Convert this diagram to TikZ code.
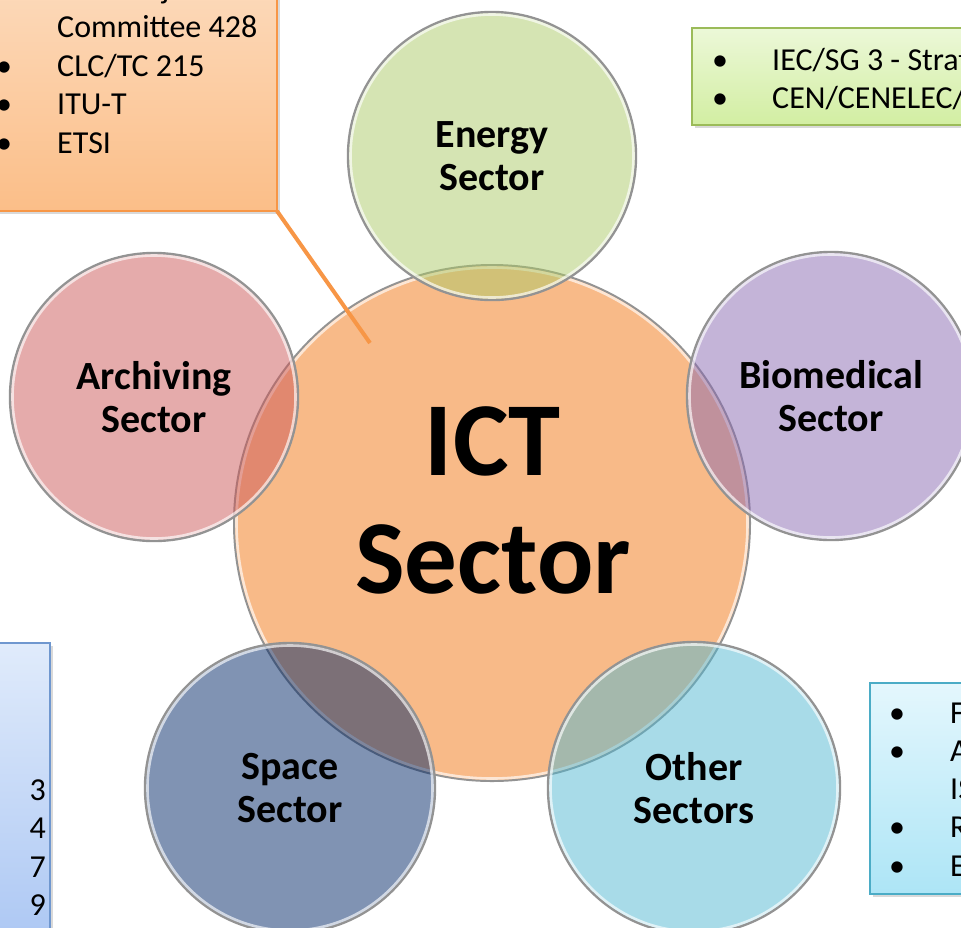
\documentclass[tikz,border=0pt]{standalone}
\usepackage{fontspec}
\setmainfont{Carlito}
\usetikzlibrary{shadows}
\definecolor{ictfill}{HTML}{F8BA88}
\definecolor{engC}{RGB}{171,201,103}
\definecolor{arcC}{RGB}{203,87,87}
\definecolor{bioC}{RGB}{137,105,177}
\definecolor{spaC}{RGB}{1,39,103}
\definecolor{othC}{RGB}{81,183,209}
\definecolor{ringgray}{HTML}{939393}
\definecolor{orangeline}{HTML}{F79646}
\definecolor{orangetop}{HTML}{FDE0C6}
\definecolor{orangebot}{HTML}{FBBE88}
\definecolor{greenline}{HTML}{9BBB59}
\definecolor{greentop}{HTML}{ECF8D8}
\definecolor{greenbot}{HTML}{D2EEA2}
\definecolor{blueline}{HTML}{6F97CF}
\definecolor{bluetop}{HTML}{E0EBFB}
\definecolor{bluebot}{HTML}{A9C5F3}
\definecolor{cyanline}{HTML}{4BACC6}
\definecolor{cyantop}{HTML}{E4F7FD}
\definecolor{cyanbot}{HTML}{ADE5F6}
\tikzset{
  sector/.style={circle, minimum size=#1, inner sep=0pt, outer sep=0pt,
    draw=ringgray, line width=2.4pt, fill opacity=0.5, text opacity=1,
    font=\fontsize{40}{43}\selectfont\bfseries, align=center},
  hilite/.style={white, line width=2.6pt, opacity=0.65},
  infobox/.style={rectangle, inner sep=0pt, outer sep=0pt, line width=2pt,
    drop shadow={opacity=0.3, shadow xshift=3pt, shadow yshift=-3pt}},
  btxt/.style={font=\fontsize{32}{38}\selectfont, inner sep=0pt, anchor=base west},
  rtxt/.style={font=\fontsize{32}{38}\selectfont, inner sep=0pt, anchor=base east},
  bigtxt/.style={font=\fontsize{105}{118}\selectfont\bfseries, align=center, inner sep=0pt}
}
\begin{document}
\begin{tikzpicture}[x=1pt,y=-1pt]
\useasboundingbox (0,0) rectangle (961,927);
\clip (0,0) rectangle (961,927);

% central circle
\node[circle, minimum size=516pt, inner sep=0pt, outer sep=0pt, fill=ictfill,
      draw=ringgray, line width=2pt] (ict) at (492,523) {};
\draw[hilite] (ict.center) circle[radius=255.5pt];
\node[bigtxt] (ictlabel) at (493,500) {ICT\\Sector};

% pointer end inside the central circle
\coordinate (ptr) at (370,343);

% outer circles
\node[sector=288pt, fill=engC] (energy) at (492,156) {Energy\\Sector};
\draw[hilite] (energy.center) circle[radius=141.5pt];
\node[sector=288pt, fill=arcC] (archiving) at (154,397) {Archiving\\Sector};
\draw[hilite] (archiving.center) circle[radius=141.5pt];
\node[sector=288pt, fill=bioC] (biomed) at (831,396) {Biomedical\\Sector};
\draw[hilite] (biomed.center) circle[radius=141.5pt];
\node[sector=290pt, fill=spaC] (space) at (290,788) {Space\\Sector};
\draw[hilite] (space.center) circle[radius=142.5pt];
\node[sector=292pt, fill=othC] (other) at (694,788) {Other\\Sectors};
\draw[hilite] (other.center) circle[radius=143.5pt];

% top-left callout box
\node[infobox, draw=orangeline, top color=orangetop, bottom color=orangebot,
      minimum width=297pt, minimum height=281pt] (tlbox) at (128.5,70.5) {};
\draw[orangeline, line width=4pt] (tlbox.south east) -- (ptr);
\node[btxt] (tl0) at (57,-2) {CEN Project};
\node[btxt] (tl1) at (57,37) {Committee 428};
\node[btxt] (tlb2) at (-4,76) {•};
\node[btxt] (tl2) at (57,76) {CLC/TC 215};
\node[btxt] (tlb3) at (-4,114) {•};
\node[btxt] (tl3) at (57,114) {ITU-T};
\node[btxt] (tlb4) at (-4,153) {•};
\node[btxt] (tl4) at (57,153) {ETSI};

% top-right green box
\node[infobox, draw=greenline, top color=greentop, bottom color=greenbot,
      minimum width=320pt, minimum height=97pt] (trbox) at (852,76.5) {};
\node[btxt] (trb1) at (712,70) {•};
\node[btxt] (tr1) at (772,70) {IEC/SG 3 - Strategic Group 3};
\node[btxt] (trb2) at (712,108) {•};
\node[btxt] (tr2) at (772,108) {CEN/CENELEC/ETSI};

% bottom-left blue box (only the line ends are visible)
\node[infobox, draw=blueline, top color=bluetop, bottom color=bluebot,
      minimum width=80pt, minimum height=320pt] (blbox) at (10,803) {};
\node[rtxt] (bl1) at (46,800) {3};
\node[rtxt] (bl2) at (46,838) {4};
\node[rtxt] (bl3) at (46,877) {7};
\node[rtxt] (bl4) at (46,915) {9};

% bottom-right cyan box
\node[infobox, draw=cyanline, top color=cyantop, bottom color=cyanbot,
      minimum width=140pt, minimum height=211pt] (brbox) at (940,788.5) {};
\node[btxt] (brb1) at (889,723) {•};
\node[btxt] (br1) at (950,723) {Finance};
\node[btxt] (brb2) at (889,761) {•};
\node[btxt] (br2) at (950,761) {Automotive};
\node[btxt] (br3) at (950,799) {ISO};
\node[btxt] (brb4) at (889,837) {•};
\node[btxt] (br4) at (950,837) {Railway};
\node[btxt] (brb5) at (889,876) {•};
\node[btxt] (br5) at (950,876) {Education};
\end{tikzpicture}
\end{document}
